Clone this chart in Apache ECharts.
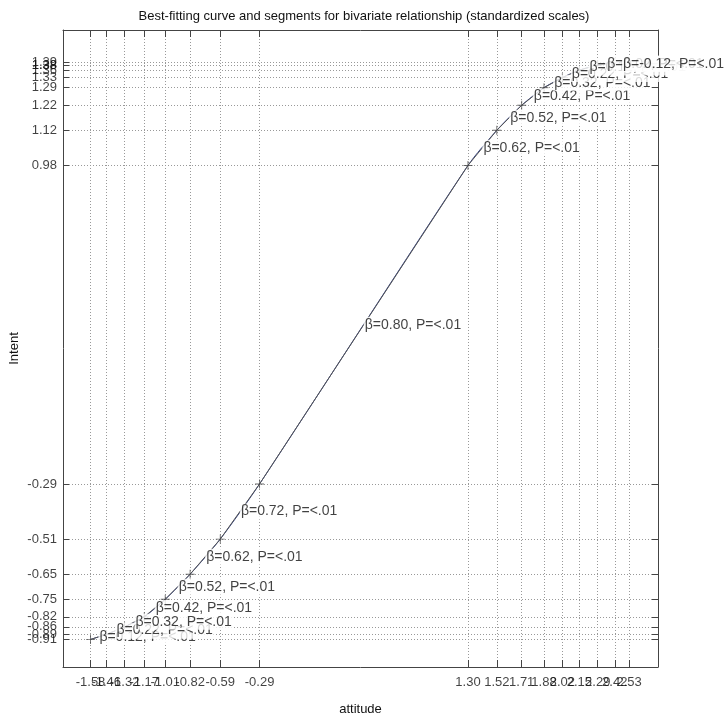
<!DOCTYPE html>
<html>
<head>
<meta charset="utf-8">
<script src="https://cdn.jsdelivr.net/npm/echarts@6/dist/echarts.min.js"></script>
<style>html,body{margin:0;padding:0;background:#fff}#c{width:728px;height:721px}</style>
</head>
<body>
<div id="c"></div>
<script>
// breakpoints of the piecewise segments (standardized scales)
const xBreaks = [-1.58,-1.46,-1.32,-1.17,-1.01,-0.82,-0.59,-0.29,1.30,1.52,1.71,1.88,2.02,2.15,2.29,2.42,2.53];
const yBreaks = [-0.91,-0.89,-0.86,-0.82,-0.75,-0.65,-0.51,-0.29,0.98,1.12,1.22,1.29,1.33,1.36,1.38,1.39,1.38];
// slope of each segment
const betas = [0.12,0.22,0.32,0.42,0.52,0.62,0.72,0.80,0.62,0.52,0.42,0.32,0.22,0.12,0.02,-0.12];
const pLabel = 'P=<.01';
// tick labels
const xTickLabels = ['-1.58','-1.46','-1.32','-1.17','-1.01','-0.82','-0.59','-0.29','1.30','1.52','1.71','1.88','2.02','2.15','2.29','2.42','2.53'];
const yTickLabels = ['-0.91','-0.89','-0.86','-0.82','-0.75','-0.65','-0.51','-0.29','0.98','1.12','1.22','1.29','1.33','1.36','1.38','1.39','1.38'];
// axis ranges
const xMin = -1.79, xMax = 2.75, yMin = -1.02, yMax = 1.52;

const FONT = 'Liberation Sans, Arial, sans-serif';
const pts = xBreaks.map((x, i) => [x, yBreaks[i]]);
const mids = betas.map((b, i) => [
  (xBreaks[i] + xBreaks[i + 1]) / 2,
  (yBreaks[i] + yBreaks[i + 1]) / 2,
  'β=' + b.toFixed(2) + ', ' + pLabel
]);
const xVals = xTickLabels.map(Number);
const yVals = yTickLabels.map(Number);
const xTickText = xVals.map((v, i) => [v, yMin, xTickLabels[i]]);
const yTickText = yVals.map((v, i) => [xMin, v, yTickLabels[i]]);

const frameColor = '#444';
const TXT = '#111';
const tickTextStyle = { fontFamily: FONT, fontSize: 13, color: TXT };
const chart = echarts.init(document.getElementById('c'));
chart.setOption({
  animation: false,
  backgroundColor: '#fff',
  title: {
    text: 'Best-fitting curve and segments for bivariate relationship (standardized scales)',
    left: 'center', top: 5,
    textStyle: { fontFamily: FONT, fontSize: 13, fontWeight: 'normal', color: TXT }
  },
  grid: { left: 62, right: 70, top: 30, bottom: 54 },
  xAxis: [{
    type: 'value', min: xMin, max: xMax, position: 'bottom',
    name: 'attitude', nameLocation: 'middle', nameGap: 36,
    nameTextStyle: { fontFamily: FONT, fontSize: 13, color: TXT },
    axisLine: { show: true, onZero: false, lineStyle: { color: frameColor } },
    axisTick: { show: true, inside: true, length: 7, customValues: xVals, lineStyle: { color: frameColor } },
    axisLabel: { show: false },
    splitLine: { show: true, lineStyle: { type: [1, 2], color: '#999' } }
  }, {
    type: 'value', min: xMin, max: xMax, position: 'top',
    axisLine: { show: true, onZero: false, lineStyle: { color: frameColor } },
    axisTick: { show: true, inside: true, length: 7, customValues: xVals, lineStyle: { color: frameColor } },
    axisLabel: { show: false }, splitLine: { show: false }
  }],
  yAxis: [{
    type: 'value', min: yMin, max: yMax, position: 'left',
    name: 'Intent', nameLocation: 'middle', nameGap: 42, nameRotate: 90,
    nameTextStyle: { fontFamily: FONT, fontSize: 13, color: TXT },
    axisLine: { show: true, onZero: false, lineStyle: { color: frameColor } },
    axisTick: { show: true, inside: true, length: 6, customValues: yVals, lineStyle: { color: frameColor } },
    axisLabel: { show: false },
    splitLine: { show: true, lineStyle: { type: [1, 2], color: '#999' } }
  }, {
    type: 'value', min: yMin, max: yMax, position: 'right',
    axisLine: { show: true, onZero: false, lineStyle: { color: frameColor } },
    axisTick: { show: true, inside: true, length: 6, customValues: yVals, lineStyle: { color: frameColor } },
    axisLabel: { show: false }, splitLine: { show: false }
  }],
  series: [{
    name: 'curve', type: 'line', data: pts, smooth: 0.25, showSymbol: false,
    lineStyle: { color: '#34448c', width: 1 }, z: 3
  }, {
    name: 'segments', type: 'line', data: pts, smooth: false, showSymbol: false,
    lineStyle: { color: '#555', width: 1 }, z: 3
  }, {
    name: 'breaks', type: 'scatter', data: pts,
    symbol: 'path://M0,4.5h10v1h-10z M4.5,0h1v10h-1z', symbolSize: 9,
    itemStyle: { color: '#444' }, z: 4
  }, {
    name: 'labels', type: 'scatter', data: mids, symbolSize: 0, z: 5,
    label: {
      show: true, position: 'right', distance: 0, offset: [0, -9],
      formatter: p => p.data[2],
      fontFamily: FONT, fontSize: 14, color: TXT,
      backgroundColor: '#fff', padding: [1, 1]
    },
    labelLayout: { hideOverlap: false }
  }, {
    name: 'xTicks', type: 'scatter', data: xTickText, symbolSize: 0, clip: false, silent: true,
    label: Object.assign({ show: true, position: 'bottom', distance: 9, formatter: p => p.data[2] }, tickTextStyle),
    labelLayout: { hideOverlap: false }
  }, {
    name: 'yTicks', type: 'scatter', data: yTickText, symbolSize: 0, clip: false, silent: true,
    label: Object.assign({ show: true, position: 'left', distance: 6, formatter: p => p.data[2] }, tickTextStyle),
    labelLayout: { hideOverlap: false }
  }]
});
</script>
</body>
</html>
